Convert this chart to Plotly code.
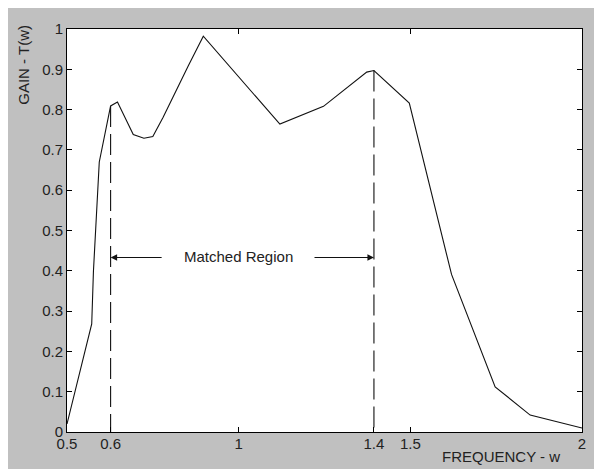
import plotly.graph_objects as go

# ---- data ----
FREQ = [0.5, 0.572, 0.577, 0.594, 0.627, 0.647, 0.693, 0.724, 0.750, 0.780,
        0.853, 0.897, 1.120, 1.247, 1.373, 1.394, 1.497, 1.620, 1.747, 1.849, 2.0]
GAIN = [0.02, 0.268, 0.399, 0.670, 0.809, 0.819, 0.738, 0.729, 0.733, 0.781,
        0.908, 0.982, 0.764, 0.808, 0.893, 0.897, 0.816, 0.391, 0.112, 0.042, 0.01]

LOW_EDGE_X = [0.627, 0.627]
LOW_EDGE_Y = [0.809, 0.0]
HIGH_EDGE_X = [1.394, 1.394]
HIGH_EDGE_Y = [0.897, 0.0]

XTICK_VALS = [0.5, 0.627, 1.0, 1.394, 1.5, 2.0]
XTICK_TEXT = ["0.5", "0.6", "1", "1.4", "1.5", "2"]
XTOP_TICK_VALS = [0.5, 1.0, 1.5, 2.0]
YTICK_VALS = [0, 0.1, 0.2, 0.3, 0.4, 0.5, 0.6, 0.7, 0.8, 0.9, 1.0]
YTICK_TEXT = ["0", "0.1", "0.2", "0.3", "0.4", "0.5", "0.6", "0.7", "0.8", "0.9", "1"]

REGION_LABEL = "Matched Region"
REGION_Y = 0.433
REGION_LABEL_X = 1.0
LEFT_ARROW_TAIL = 0.780
RIGHT_ARROW_TAIL = 1.2165

FONT = "Liberation Sans, Arial, sans-serif"
TXT = "#222222"
GRAY = "#c0c0c0"

fig = go.Figure()
fig.add_trace(go.Scatter(x=FREQ, y=GAIN, mode="lines",
                         line=dict(color="#111111", width=1.1),
                         showlegend=False, hoverinfo="skip"))
fig.add_trace(go.Scatter(x=LOW_EDGE_X, y=LOW_EDGE_Y, mode="lines",
                         line=dict(color="#111111", width=1.1, dash="21px,7px"),
                         showlegend=False, hoverinfo="skip"))
fig.add_trace(go.Scatter(x=HIGH_EDGE_X, y=HIGH_EDGE_Y, mode="lines",
                         line=dict(color="#111111", width=1.1, dash="21px,7px"),
                         showlegend=False, hoverinfo="skip"))
# invisible trace to activate the top tick axis
fig.add_trace(go.Scatter(x=FREQ, y=GAIN, mode="lines", xaxis="x2",
                         line=dict(width=0), opacity=0,
                         showlegend=False, hoverinfo="skip"))

axis_font = dict(family=FONT, size=15, color=TXT)

fig.update_layout(
    width=602, height=469,
    margin=dict(l=59, r=28, t=18, b=45),
    paper_bgcolor=GRAY, plot_bgcolor="white",
    xaxis=dict(range=[0.5, 2.0], tickmode="array", tickvals=XTICK_VALS, ticktext=XTICK_TEXT,
               ticks="inside", ticklen=5, tickcolor="black", tickwidth=1,
               showline=True, linecolor="black", linewidth=1, mirror=True,
               showgrid=False, zeroline=False, tickfont=axis_font,
               ticklabelstandoff=-2),
    xaxis2=dict(range=[0.5, 2.0], overlaying="x", side="top", anchor="y",
                tickmode="array", tickvals=XTOP_TICK_VALS,
                ticks="inside", ticklen=5, tickcolor="black", tickwidth=1,
                showticklabels=False, showline=False, showgrid=False, zeroline=False),
    yaxis=dict(range=[0, 1.0], tickmode="array", tickvals=YTICK_VALS, ticktext=YTICK_TEXT,
               ticks="inside", ticklen=5, tickcolor="black", tickwidth=1,
               showline=True, linecolor="black", linewidth=1, mirror="ticks",
               showgrid=False, zeroline=False, tickfont=axis_font),
    annotations=[
        dict(x=LOW_EDGE_X[0], y=REGION_Y, ax=LEFT_ARROW_TAIL, ay=REGION_Y,
             xref="x", yref="y", axref="x", ayref="y", text="", showarrow=True,
             arrowhead=2, arrowsize=1.3, arrowwidth=1, arrowcolor="#111111"),
        dict(x=HIGH_EDGE_X[0], y=REGION_Y, ax=RIGHT_ARROW_TAIL, ay=REGION_Y,
             xref="x", yref="y", axref="x", ayref="y", text="", showarrow=True,
             arrowhead=2, arrowsize=1.3, arrowwidth=1, arrowcolor="#111111"),
        dict(x=REGION_LABEL_X, y=REGION_Y, xref="x", yref="y", text=REGION_LABEL,
             showarrow=False, font=dict(family=FONT, size=15, color=TXT), yshift=1),
        dict(x=-0.0849, y=0.912, xref="paper", yref="paper", text="GAIN - T(w)",
             textangle=-90, showarrow=False, xanchor="center", yanchor="middle",
             font=dict(family=FONT, size=15, color=TXT)),
        dict(x=0.8427, y=-0.0616, xref="paper", yref="paper", text="FREQUENCY - w",
             showarrow=False, xanchor="center", yanchor="middle",
             font=dict(family=FONT, size=15, color=TXT)),
    ],
)

fig.write_html("out.html")
